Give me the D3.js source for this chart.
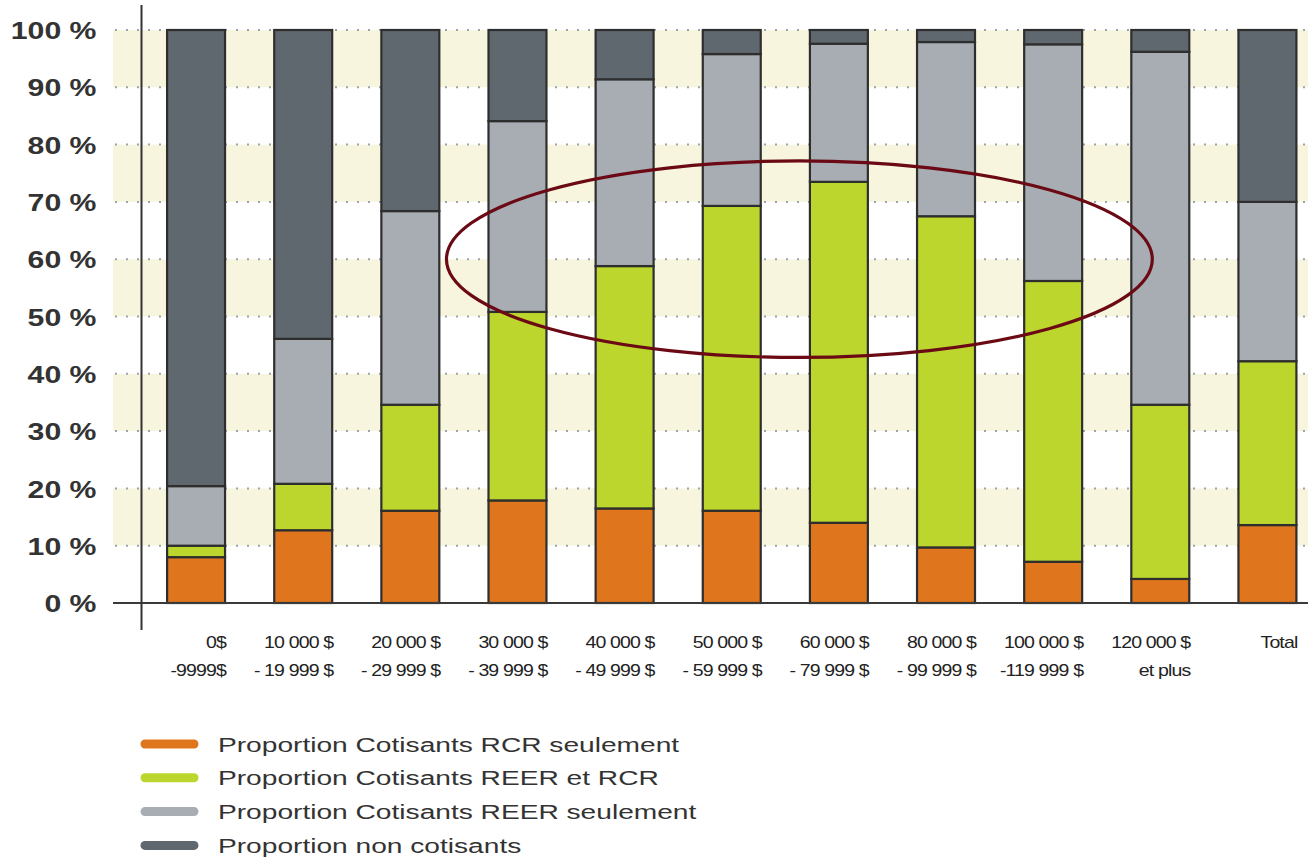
<!DOCTYPE html>
<html>
<head>
<meta charset="utf-8">
<script src="https://cdn.jsdelivr.net/npm/d3@7"></script>
<style>
  html, body { margin: 0; padding: 0; background: #ffffff; }
  svg { display: block; }
</style>
</head>
<body>
<svg id="chart" width="1308" height="858"></svg>
<script>
// Income brackets (two-line labels) and the key used by the band scale
const bracketTop = ["0$", "10 000 $", "20 000 $", "30 000 $", "40 000 $", "50 000 $", "60 000 $", "80 000 $", "100 000 $", "120 000 $", "Total"];
const bracketBottom = ["-9999$", "- 19 999 $", "- 29 999 $", "- 39 999 $", "- 49 999 $", "- 59 999 $", "- 79 999 $", "- 99 999 $", "-119 999 $", "et plus", ""];

// Share of tax filers (%) in each group, stacked bottom to top
const rcrOnly      = [8.0, 12.7, 16.1, 17.9, 16.5, 16.1, 14.0,  9.7,  7.2,  4.2, 13.6];
const reerAndRcr   = [2.0,  8.1, 18.5, 32.9, 42.3, 53.2, 59.5, 57.8, 49.0, 30.4, 28.6];
const reerOnly     = [10.4, 25.3, 33.8, 33.3, 32.6, 26.5, 24.1, 30.4, 41.3, 61.6, 27.8];
const nonContrib   = [79.6, 53.9, 31.6, 15.9,  8.6,  4.2,  2.4,  2.1,  2.5,  3.8, 30.0];

const seriesNames = [
  "Proportion Cotisants RCR seulement",
  "Proportion Cotisants REER et RCR",
  "Proportion Cotisants REER seulement",
  "Proportion non cotisants"
];
const seriesKeys = ["rcr", "both", "reer", "none"];
const seriesColors = ["#df761e", "#bcd62e", "#a7adb3", "#5f686e"];

const yTicks = [0, 10, 20, 30, 40, 50, 60, 70, 80, 90, 100];

const rows = bracketTop.map((k, i) => ({
  key: k,
  rcr: rcrOnly[i],
  both: reerAndRcr[i],
  reer: reerOnly[i],
  none: nonContrib[i]
}));

const svg = d3.select("#chart");
const W = 1308;

const x = d3.scaleBand()
  .domain(bracketTop)
  .range([142.5, 1321])
  .paddingInner(0.459)
  .paddingOuter(0.2295);

const y = d3.scaleLinear().domain([0, 100]).range([603, 30]);

const plotLeft = 113;

// Alternating pale bands behind the bars
const bandPairs = d3.range(0, 100, 20).map(v => [v + 10, v + 20]);
svg.append("g").selectAll("rect")
  .data(bandPairs)
  .join("rect")
  .attr("x", plotLeft)
  .attr("width", W - plotLeft)
  .attr("y", d => y(d[1]))
  .attr("height", d => y(d[0]) - y(d[1]))
  .attr("fill", "#f8f5df");

// Dotted gridlines
svg.append("g").selectAll("line")
  .data(yTicks.filter(v => v > 0))
  .join("line")
  .attr("x1", plotLeft + 2)
  .attr("x2", W)
  .attr("y1", d => y(d))
  .attr("y2", d => y(d))
  .attr("stroke", "#9aa4ad")
  .attr("stroke-width", 2)
  .attr("stroke-dasharray", "2,9");

// Stacked bars
const stack = d3.stack().keys(seriesKeys);
const layers = stack(rows);

svg.append("g").selectAll("g")
  .data(layers)
  .join("g")
  .attr("fill", (d, i) => seriesColors[i])
  .selectAll("rect")
  .data(d => d)
  .join("rect")
  .attr("x", d => x(d.data.key))
  .attr("width", x.bandwidth())
  .attr("y", d => y(d[1]))
  .attr("height", d => y(d[0]) - y(d[1]))
  .attr("stroke", "#2e2e2e")
  .attr("stroke-width", 2.2);

// Baseline and vertical axis line
svg.append("line")
  .attr("x1", plotLeft).attr("x2", W)
  .attr("y1", y(0)).attr("y2", y(0))
  .attr("stroke", "#3a3a3a").attr("stroke-width", 2);

svg.append("line")
  .attr("x1", 141.5).attr("x2", 141.5)
  .attr("y1", 5).attr("y2", 630)
  .attr("stroke", "#333333").attr("stroke-width", 2);

// Y axis labels
const yAxis = d3.axisLeft(y)
  .tickValues(yTicks)
  .tickSize(0)
  .tickFormat(d => d + " %");

const yAxisG = svg.append("g")
  .attr("transform", "translate(141.5,0)")
  .call(yAxis);
yAxisG.select(".domain").remove();
yAxisG.selectAll("text")
  .attr("x", 0)
  .attr("dy", "0.36em")
  .attr("text-anchor", "end")
  .attr("transform", "translate(-45,0) scale(1.26,1)")
  .attr("fill", "#333333")
  .style("font-family", "'Liberation Sans', Arial, sans-serif")
  .style("font-weight", "bold")
  .style("font-size", "24px");

// X axis labels (two lines, right-aligned on each bar)
const xAxis = d3.axisBottom(x).tickSize(0).tickFormat("");
const xAxisG = svg.append("g")
  .attr("transform", `translate(0,${y(0)})`)
  .call(xAxis);
xAxisG.select(".domain").remove();
xAxisG.selectAll(".tick").each(function(d, i) {
  const t = d3.select(this);
  t.select("text").remove();
  const lbl = t.append("text")
    .attr("text-anchor", "end")
    .attr("transform", `translate(${x.bandwidth() / 2 + 1},0) scale(1.22,1)`)
    .attr("fill", "#222222")
    .style("font-family", "'Liberation Sans Narrow', 'Liberation Sans', Arial, sans-serif")
    .style("font-size", "16px")
    .style("letter-spacing", "-0.7px");
  lbl.append("tspan").attr("x", 0).attr("y", 45).text(bracketTop[i]);
  lbl.append("tspan").attr("x", 0).attr("y", 73).text(bracketBottom[i]);
});

// Highlight ellipse around the middle-income brackets
const ellLeft = x("30 000 $") + x.bandwidth() / 2 - 71;
const ellRight = x("120 000 $") + x.bandwidth() / 2 - 8;
svg.append("ellipse")
  .attr("cx", (ellLeft + ellRight) / 2)
  .attr("cy", y(60))
  .attr("rx", (ellRight - ellLeft) / 2)
  .attr("ry", (y(43) - y(77.3)) / 2)
  .attr("fill", "none")
  .attr("stroke", "#6b0a14")
  .attr("stroke-width", 3.2);

// Legend
const legend = svg.append("g").attr("transform", "translate(0,744)");
const item = legend.selectAll("g")
  .data(seriesNames)
  .join("g")
  .attr("transform", (d, i) => `translate(0,${i * 33.8})`);

item.append("line")
  .attr("x1", 145).attr("x2", 194)
  .attr("y1", 0).attr("y2", 0)
  .attr("stroke", (d, i) => seriesColors[i])
  .attr("stroke-width", 9)
  .attr("stroke-linecap", "round");

item.append("text")
  .attr("transform", "translate(218,0) scale(1.34,1)")
  .attr("dy", "0.36em")
  .attr("fill", "#333333")
  .style("font-family", "'Liberation Sans', Arial, sans-serif")
  .style("font-size", "21px")
  .text(d => d);
</script>
</body>
</html>
